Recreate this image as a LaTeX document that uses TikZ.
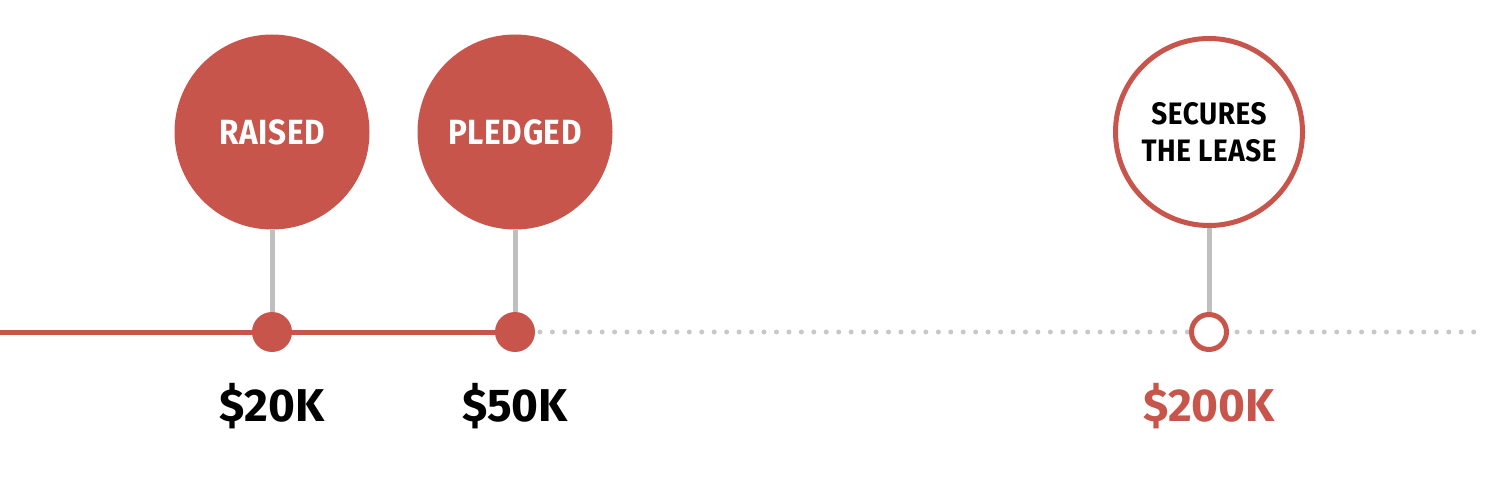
\documentclass[tikz,border=0pt]{standalone}
\usepackage{fontspec}
\setmainfont{Fira Sans}
\newfontfamily\labelfont[LetterSpace=2]{Fira Sans}
\usetikzlibrary{backgrounds}
\definecolor{brick}{HTML}{C8554B}
\definecolor{stemgray}{HTML}{BFBFBF}
\definecolor{dotgray}{HTML}{C8C8C8}
\begin{document}
\begin{tikzpicture}[x=1pt,y=-1pt,line cap=butt]
	\tikzset{goal/.style={circle,fill=brick,minimum size=195pt,inner sep=0pt,text=white,
			font=\labelfont\bfseries\fontsize{35}{35}\selectfont},
		target/.style={circle,draw=brick,line width=5pt,fill=white,minimum size=187pt,inner sep=0pt,
			align=center,font=\labelfont\bfseries\fontsize{31}{37}\selectfont},
		milestone/.style={circle,fill=brick,minimum size=40pt,inner sep=0pt},
		openmilestone/.style={circle,draw=brick,line width=5pt,fill=white,minimum size=35pt,inner sep=0pt},
		amount/.style={anchor=base,font=\bfseries\fontsize{46}{46}\selectfont},
		stem/.style={stemgray,line width=5pt}}
	\useasboundingbox (0,0) rectangle (1485,494);
	% circles with labels
	\node[goal] (raised) at (272,132) {\scalebox{.9}[1]{RAISED}};
	\node[goal] (pledged) at (515,132) {\scalebox{.9}[1]{PLEDGED}};
	\node[target] (lease) at (1209,132) {\scalebox{.9}[1]{SECURES}\\\scalebox{.9}[1]{THE LEASE}};
	% points on the line
	\node[milestone] (m20) at (272,332) {};
	\node[milestone] (m50) at (515,332) {};
	\node[openmilestone] (m200) at (1209,332) {};
	\coordinate (start) at (0,332);
	\coordinate (end) at (1482,332);
	% amounts
	\node[amount] (a20) at (272,421) {\$20K};
	\node[amount] (a50) at (515,421) {\$50K};
	\node[amount,text=brick] (a200) at (1209,421) {\$200K};
	\begin{scope}[on background layer]
		\draw[dotgray,line width=5pt,line cap=round,dash pattern=on 0pt off 12.45pt] (m50.center) -- (end);
		\draw[brick,line width=5pt] (start) -- (m50.center);
		\foreach \c/\m in {raised/m20,pledged/m50,lease/m200}{
			\draw[stem] (\c.south) -- (\m.north);}
	\end{scope}
\end{tikzpicture}
\end{document}
